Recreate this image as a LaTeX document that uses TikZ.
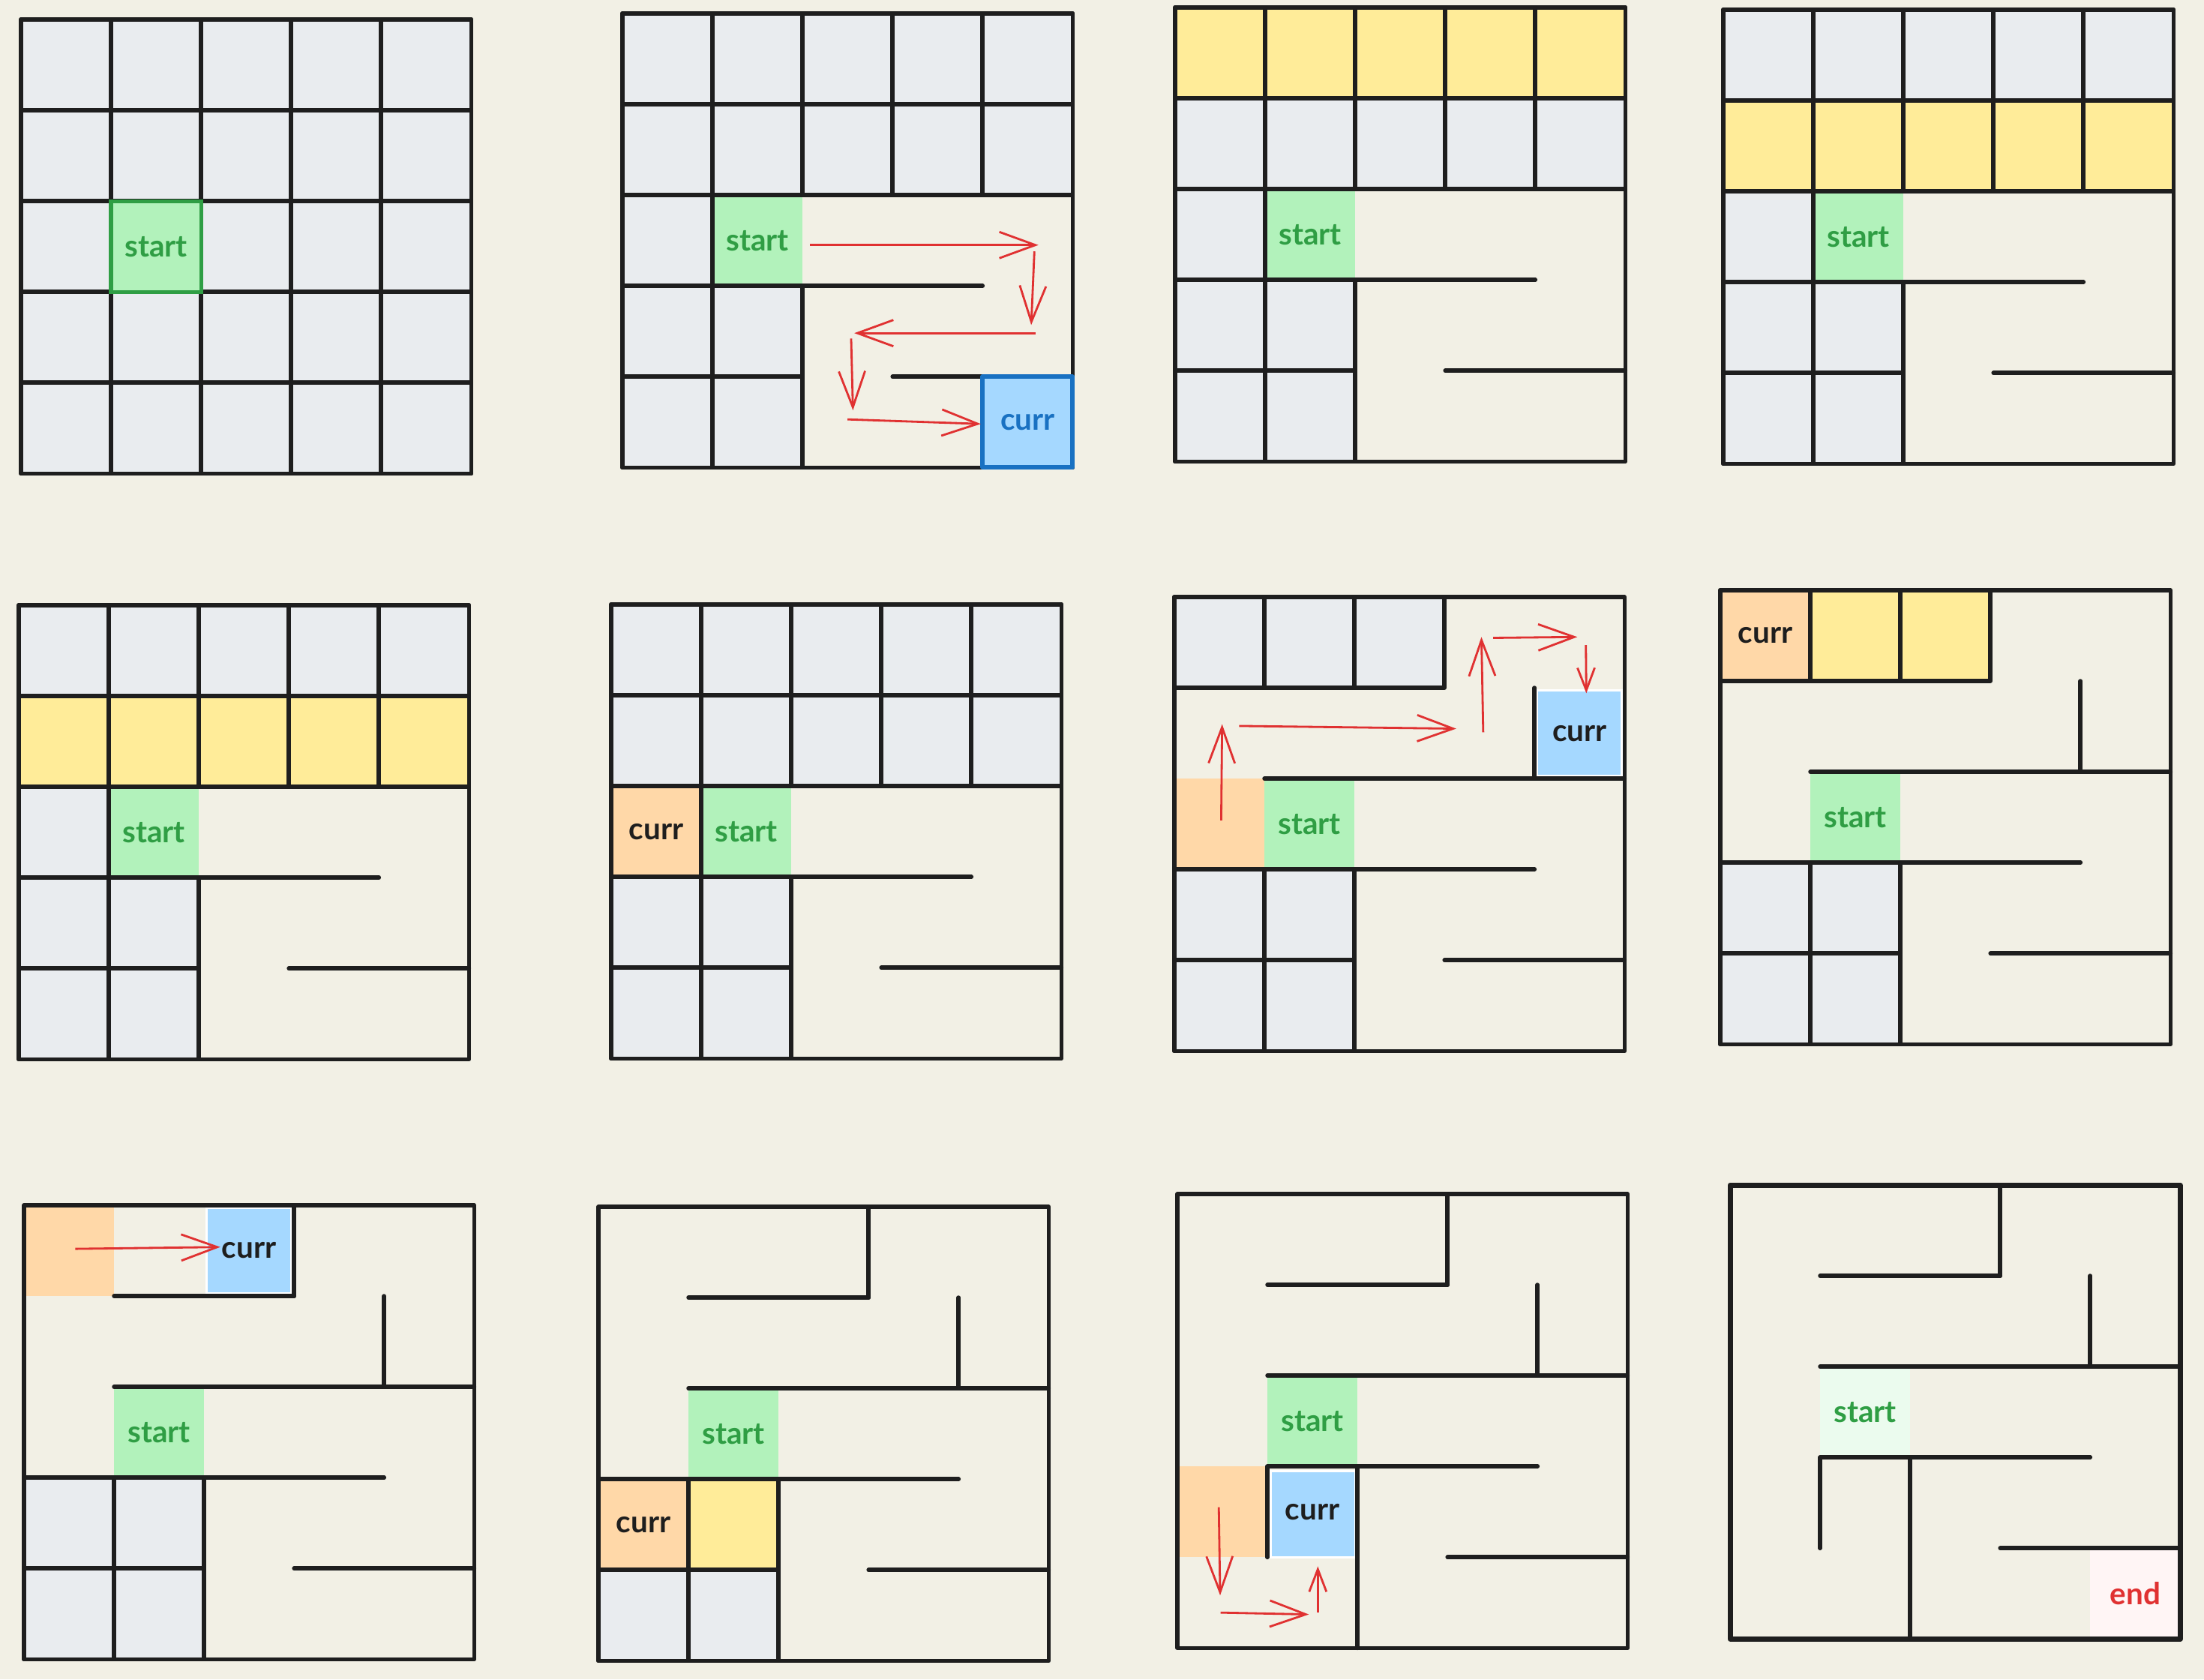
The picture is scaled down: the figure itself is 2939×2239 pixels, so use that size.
\documentclass[tikz,border=0pt]{standalone}
\usepackage{fontspec}
\setmainfont{Lato}
\usetikzlibrary{arrows.meta}
\definecolor{bg}{HTML}{F2F0E5}
\definecolor{ink}{HTML}{1E1E1E}
\definecolor{cellgray}{HTML}{E9ECEF}
\definecolor{startgreen}{HTML}{B2F2BB}
\definecolor{startdark}{HTML}{2F9E44}
\definecolor{startfaded}{HTML}{EBFBEE}
\definecolor{currblue}{HTML}{A5D8FF}
\definecolor{currdark}{HTML}{1971C2}
\definecolor{currorange}{HTML}{FFD8A8}
\definecolor{scanyellow}{HTML}{FFEC99}
\definecolor{endpink}{HTML}{FFF5F5}
\definecolor{arrred}{HTML}{E03131}
\tikzset{
  wall/.style={draw=ink, line width=1.6pt, line cap=round},
  cellbox/.style={draw=ink, line width=1.6pt, fill=cellgray, line join=round},
  lbl/.style={font=\bfseries\fontsize{11.5}{14}\selectfont, inner sep=0pt},
  startlbl/.style={lbl, text=startdark},
  currlbl/.style={lbl, text=ink},
  bigarr/.style={draw=arrred, line width=0.8pt, -{Straight Barb[length=4.8mm, width=3.5mm]}},
  smallarr/.style={draw=arrred, line width=0.8pt, -{Straight Barb[length=3mm, width=2.3mm]}},
  cellgrid/.style={x=1.2cm, y=-1.21cm},
  whiteblue/.style={draw=white, line width=0.8pt, fill=currblue},
}
% row, col
\newcommand{\mzgray}[2]{\draw[cellbox] (#2,#1) rectangle ++(1,1);}
\newcommand{\mzbox}[3]{\draw[cellbox, fill=#3] (#2,#1) rectangle ++(1,1);}
\newcommand{\mzfill}[3]{\fill[#3] (#2,#1) rectangle ++(1,1);}
% horizontal grid line at row-line #1 from col-line #2 to #3
\newcommand{\mzh}[3]{\draw[wall] (#2,#1) -- (#3,#1);}
% vertical grid line at col-line #1 from row-line #2 to #3
\newcommand{\mzv}[3]{\draw[wall] (#1,#2) -- (#1,#3);}
\newcommand{\mzouter}{\draw[wall, line join=round] (0,0) rectangle (5,5);}

\begin{document}
\begin{tikzpicture}[x=0.01cm, y=-0.01cm]
\useasboundingbox (0,0) rectangle (2939,2239);
\fill[bg] (0,0) rectangle (2939,2239);

% ---------------- Panel 1 ----------------
\begin{scope}[shift={(28,26)}, cellgrid]
  \mzouter
  \foreach \r in {0,...,4}{\foreach \c in {0,...,4}{\mzgray{\r}{\c}}}
  \draw[draw=startdark, line width=1.5pt, fill=startgreen] (1,2) rectangle (2,3);
  \node[startlbl] (p1start) at (1.5,2.5) {start};
\end{scope}

% ---------------- Panel 2 ----------------
\begin{scope}[shift={(830,18)}, cellgrid]
  \mzfill{2}{1}{startgreen}
  \mzouter
  \mzh{3}{2}{4}
  \mzh{4}{3}{4}
  \foreach \c in {0,...,4}{\mzgray{0}{\c}\mzgray{1}{\c}}
  \mzgray{2}{0}\mzgray{3}{0}\mzgray{3}{1}\mzgray{4}{0}\mzgray{4}{1}
  \draw[draw=currdark, line width=1.7pt, fill=currblue, line join=round] (4,4) rectangle (5,5);
  \node[startlbl] (p2start) at (1.5,2.5) {start};
  \node[lbl, text=currdark] (p2curr) at (4.5,4.5) {curr};
  \coordinate (p2a1s) at (2.08,2.55); \coordinate (p2a1e) at (4.62,2.55);
  \coordinate (p2a2s) at (4.575,2.62); \coordinate (p2a2e) at (4.54,3.43);
  \coordinate (p2a3s) at (4.59,3.52); \coordinate (p2a3e) at (2.575,3.52);
  \coordinate (p2a4s) at (2.54,3.58); \coordinate (p2a4e) at (2.56,4.37);
  \coordinate (p2a5s) at (2.5,4.47); \coordinate (p2a5e) at (3.98,4.52);
  \draw[bigarr] (p2a1s) -- (p2a1e);
  \draw[bigarr] (p2a2s) -- (p2a2e);
  \draw[bigarr] (p2a3s) -- (p2a3e);
  \draw[bigarr] (p2a4s) -- (p2a4e);
  \draw[bigarr] (p2a5s) -- (p2a5e);
\end{scope}

% ---------------- Panel 3 ----------------
\begin{scope}[shift={(1567,10)}, cellgrid]
  \mzfill{2}{1}{startgreen}
  \mzouter
  \mzh{3}{2}{4}
  \mzh{4}{3}{5}
  \foreach \c in {0,...,4}{\mzbox{0}{\c}{scanyellow}\mzgray{1}{\c}}
  \mzgray{2}{0}\mzgray{3}{0}\mzgray{3}{1}\mzgray{4}{0}\mzgray{4}{1}
  \node[startlbl] (p3start) at (1.5,2.5) {start};
\end{scope}

% ---------------- Panel 4 ----------------
\begin{scope}[shift={(2298,13)}, cellgrid]
  \mzfill{2}{1}{startgreen}
  \mzouter
  \mzh{3}{2}{4}
  \mzh{4}{3}{5}
  \foreach \c in {0,...,4}{\mzgray{0}{\c}\mzbox{1}{\c}{scanyellow}}
  \mzgray{2}{0}\mzgray{3}{0}\mzgray{3}{1}\mzgray{4}{0}\mzgray{4}{1}
  \node[startlbl] (p4start) at (1.5,2.5) {start};
\end{scope}

% ---------------- Panel 5 ----------------
\begin{scope}[shift={(25,807)}, cellgrid]
  \mzfill{2}{1}{startgreen}
  \mzouter
  \mzh{3}{2}{4}
  \mzh{4}{3}{5}
  \foreach \c in {0,...,4}{\mzgray{0}{\c}\mzbox{1}{\c}{scanyellow}}
  \mzgray{2}{0}\mzgray{3}{0}\mzgray{3}{1}\mzgray{4}{0}\mzgray{4}{1}
  \node[startlbl] (p5start) at (1.5,2.5) {start};
\end{scope}

% ---------------- Panel 6 ----------------
\begin{scope}[shift={(815,806)}, cellgrid]
  \mzfill{2}{1}{startgreen}
  \mzouter
  \mzh{3}{2}{4}
  \mzh{4}{3}{5}
  \foreach \c in {0,...,4}{\mzgray{0}{\c}\mzgray{1}{\c}}
  \mzbox{2}{0}{currorange}
  \mzgray{3}{0}\mzgray{3}{1}\mzgray{4}{0}\mzgray{4}{1}
  \node[startlbl] (p6start) at (1.5,2.5) {start};
  \node[currlbl] (p6curr) at (0.5,2.5) {curr};
\end{scope}

% ---------------- Panel 7 ----------------
\begin{scope}[shift={(1566,796)}, cellgrid]
  \mzfill{2}{0}{currorange}
  \mzfill{2}{1}{startgreen}
  \draw[whiteblue] (4.03,1.03) rectangle (4.97,1.97);
  \mzouter
  \mzh{2}{1}{5}
  \mzv{4}{1}{2}
  \mzh{3}{2}{4}
  \mzh{4}{3}{5}
  \mzgray{0}{0}\mzgray{0}{1}\mzgray{0}{2}
  \mzgray{3}{0}\mzgray{3}{1}\mzgray{4}{0}\mzgray{4}{1}
  \node[startlbl] (p7start) at (1.5,2.5) {start};
  \node[currlbl] (p7curr) at (4.5,1.5) {curr};
  \coordinate (p7a1s) at (0.52,2.46); \coordinate (p7a1e) at (0.53,1.40);
  \coordinate (p7a2s) at (0.72,1.42); \coordinate (p7a2e) at (3.13,1.45);
  \coordinate (p7a3s) at (3.43,1.49); \coordinate (p7a3e) at (3.41,0.44);
  \coordinate (p7a4s) at (3.54,0.45); \coordinate (p7a4e) at (4.475,0.44);
  \coordinate (p7a5s) at (4.57,0.53); \coordinate (p7a5e) at (4.575,1.06);
  \draw[bigarr] (p7a1s) -- (p7a1e);
  \draw[bigarr] (p7a2s) -- (p7a2e);
  \draw[bigarr] (p7a3s) -- (p7a3e);
  \draw[bigarr] (p7a4s) -- (p7a4e);
  \draw[smallarr] (p7a5s) -- (p7a5e);
\end{scope}

% ---------------- Panel 8 ----------------
\begin{scope}[shift={(2294,787)}, cellgrid]
  \mzfill{2}{1}{startgreen}
  \mzouter
  \mzh{2}{1}{5}
  \mzv{4}{1}{2}
  \mzh{3}{2}{4}
  \mzh{4}{3}{5}
  \mzbox{0}{0}{currorange}\mzbox{0}{1}{scanyellow}\mzbox{0}{2}{scanyellow}
  \mzgray{3}{0}\mzgray{3}{1}\mzgray{4}{0}\mzgray{4}{1}
  \node[startlbl] (p8start) at (1.5,2.5) {start};
  \node[currlbl] (p8curr) at (0.5,0.5) {curr};
\end{scope}

% ---------------- Panel 9 ----------------
\begin{scope}[shift={(32,1607)}, cellgrid]
  \mzfill{0}{0}{currorange}
  \mzfill{2}{1}{startgreen}
  \draw[whiteblue] (2.03,0.03) rectangle (2.97,0.97);
  \mzouter
  \mzv{3}{0}{1}
  \mzh{1}{1}{3}
  \mzh{2}{1}{5}
  \mzv{4}{1}{2}
  \mzh{3}{2}{4}
  \mzh{4}{3}{5}
  \mzgray{3}{0}\mzgray{3}{1}\mzgray{4}{0}\mzgray{4}{1}
  \node[startlbl] (p9start) at (1.5,2.5) {start};
  \node[currlbl] (p9curr) at (2.5,0.5) {curr};
  \coordinate (p9a1s) at (0.57,0.48); \coordinate (p9a1e) at (2.18,0.46);
  \draw[bigarr] (p9a1s) -- (p9a1e);
\end{scope}

% ---------------- Panel 10 ----------------
\begin{scope}[shift={(798,1609)}, cellgrid]
  \mzfill{2}{1}{startgreen}
  \mzouter
  \mzv{3}{0}{1}
  \mzh{1}{1}{3}
  \mzh{2}{1}{5}
  \mzv{4}{1}{2}
  \mzh{3}{2}{4}
  \mzh{4}{3}{5}
  \mzbox{3}{0}{currorange}\mzbox{3}{1}{scanyellow}
  \mzgray{4}{0}\mzgray{4}{1}
  \node[startlbl] (p10start) at (1.5,2.5) {start};
  \node[currlbl] (p10curr) at (0.5,3.5) {curr};
\end{scope}

% ---------------- Panel 11 ----------------
\begin{scope}[shift={(1570,1592)}, cellgrid]
  \mzfill{3}{0}{currorange}
  \mzfill{2}{1}{startgreen}
  \draw[whiteblue] (1.04,3.05) rectangle (1.98,4.0);
  \mzouter
  \mzv{3}{0}{1}
  \mzh{1}{1}{3}
  \mzh{2}{1}{5}
  \mzv{4}{1}{2}
  \mzh{3}{1}{4}
  \mzv{1}{3}{4}
  \mzv{2}{3}{5}
  \mzh{4}{3}{5}
  \node[startlbl] (p11start) at (1.5,2.5) {start};
  \node[currlbl] (p11curr) at (1.5,3.5) {curr};
  \coordinate (p11a1s) at (0.46,3.45); \coordinate (p11a1e) at (0.475,4.42);
  \coordinate (p11a2s) at (0.48,4.61); \coordinate (p11a2e) at (1.46,4.63);
  \coordinate (p11a3s) at (1.56,4.61); \coordinate (p11a3e) at (1.56,4.10);
  \draw[bigarr] (p11a1s) -- (p11a1e);
  \draw[bigarr] (p11a2s) -- (p11a2e);
  \draw[smallarr] (p11a3s) -- (p11a3e);
\end{scope}

% ---------------- Panel 12 ----------------
\begin{scope}[shift={(2307,1580)}, cellgrid]
  \mzfill{2}{1}{startfaded}
  \mzfill{4}{4}{endpink}
  \draw[wall, line width=2pt, line join=round] (0,0) rectangle (5,5);
  \mzv{3}{0}{1}
  \mzh{1}{1}{3}
  \mzh{2}{1}{5}
  \mzv{4}{1}{2}
  \mzh{3}{1}{4}
  \mzv{1}{3}{4}
  \mzv{2}{3}{5}
  \mzh{4}{3}{5}
  \node[startlbl] (p12start) at (1.5,2.5) {start};
  \node[lbl, text=arrred] (p12end) at (4.5,4.5) {end};
\end{scope}
\end{tikzpicture}
\end{document}
